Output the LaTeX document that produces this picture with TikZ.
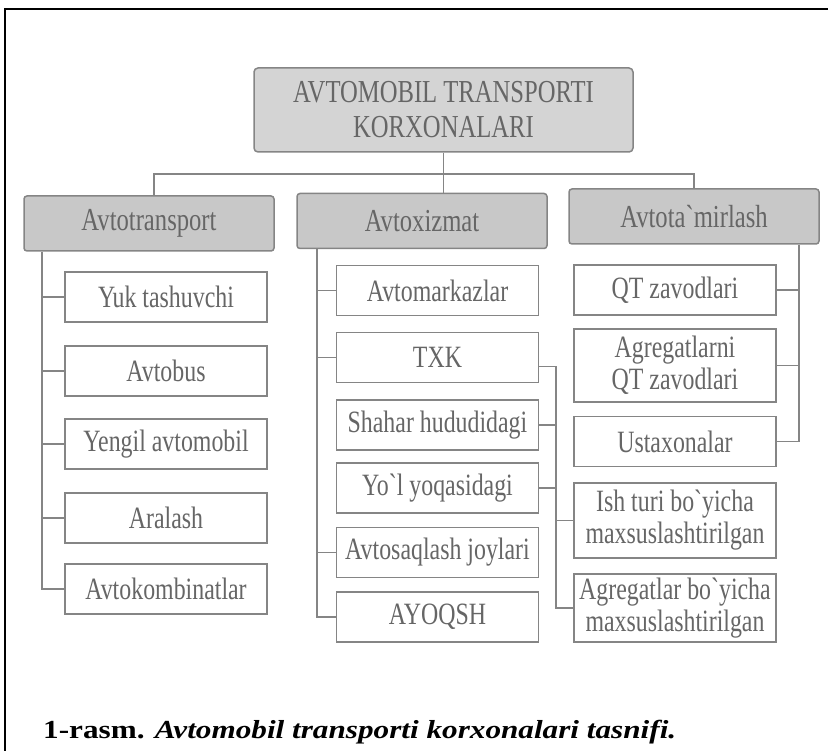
\documentclass[tikz,border=0pt]{standalone}
\usepackage{fontspec}
\setmainfont{Liberation Serif}
\newfontfamily\boxfont[FakeStretch=0.77]{Liberation Serif}
\newfontfamily\capfont[FakeStretch=1.2]{Liberation Serif}
\usetikzlibrary{positioning}
\definecolor{linegray}{HTML}{858585}
\definecolor{txtgray}{HTML}{666666}
\definecolor{headfill}{HTML}{C8C8C8}
\definecolor{rootfill}{HTML}{D4D4D4}

\begin{document}
\begin{tikzpicture}[x=1pt, y=-1pt]
\tikzstyle{every node}=[font=\boxfont\fontsize{31}{32}\selectfont, text=txtgray] %%
\tikzstyle{leafbox}=[draw=linegray, line width=1.5pt, fill=white, minimum width=202pt, minimum height=50pt, inner sep=0pt, align=center]
\tikzstyle{headbox}=[draw=linegray, line width=1.5pt, fill=headfill, rounded corners=3pt, minimum width=250pt, minimum height=55pt, inner sep=0pt, font=\boxfont\fontsize{32}{33}\selectfont]
\tikzstyle{rootbox}=[draw=linegray, line width=1.5pt, fill=rootfill, rounded corners=4pt, minimum width=379pt, minimum height=84pt, inner sep=0pt, align=center, font=\boxfont\fontsize{32}{35}\selectfont]
\tikzstyle{linkline}=[draw=linegray, line width=1.8pt]
\useasboundingbox (0,0) rectangle (828,751);
\draw[black, line width=2pt] (5,751) -- (5,9) -- (828,9);

\node[rootbox] (akt) at (443.5,110) {AVTOMOBIL TRANSPORTI\\KORXONALARI};
\node[headbox] (trans) at (149,223.5) {Avtotransport};
\node[headbox] (xiz) at (422,221) {Avtoxizmat};
\node[headbox] (tamir) at (694,216.5) {Avtota`mirlash};

% avtotransport
\node[leafbox] (yuk) at (166,297) {Yuk tashuvchi};
\node[leafbox] (bus) at (166,371) {Avtobus};
\node[leafbox] (yengil) at (166,444) {Yengil avtomobil};
\node[leafbox] (aral) at (166,518) {Aralash};
\node[leafbox] (komb) at (166,589) {Avtokombinatlar};

% avtoxizmat
\node[leafbox] (markaz) at (437.5,290.5) {Avtomarkazlar};
\node[leafbox] (txk) at (437.5,357.5) {TXK};
\node[leafbox] (shahar) at (437.5,425) {Shahar hududidagi};
\node[leafbox] (yol) at (437.5,488) {Yo`l yoqasidagi};
\node[leafbox] (saqlash) at (437.5,552.5) {Avtosaqlash joylari};
\node[leafbox] (ayoqsh) at (437.5,617) {AYOQSH};

% avtota`mirlash
\node[leafbox] (qt) at (675,290) {QT zavodlari};
\node[leafbox, minimum height=73pt] (agr) at (675,365.5) {Agregatlarni\\QT zavodlari};
\node[leafbox] (usta) at (675,441.5) {Ustaxonalar};
\node[leafbox, minimum height=75pt] (ish) at (675,520.5) {Ish turi bo`yicha\\maxsuslashtirilgan};
\node[leafbox, minimum height=68pt] (agrb) at (675,608) {Agregatlar bo`yicha\\maxsuslashtirilgan};

\coordinate (jl) at (154,174);
\coordinate (jr) at (694,174);
\coordinate (lbar) at (42,0);
\coordinate (mbar) at (317,0);
\coordinate (tbar) at (556,0);
\coordinate (rbar) at (799,0);

\draw[linkline] (akt.south) -- (xiz.north -| akt.south);
\draw[linkline] (trans.north -| jl) |- (jr) -- (tamir.north);

\draw[linkline] (trans.south -| lbar) |- (komb.west);
\draw[linkline] (yuk.west) -- (yuk.west -| lbar);
\draw[linkline] (bus.west) -- (bus.west -| lbar);
\draw[linkline] (yengil.west) -- (yengil.west -| lbar);
\draw[linkline] (aral.west) -- (aral.west -| lbar);

\draw[linkline] (xiz.south -| mbar) |- (ayoqsh.west);
\draw[linkline] (markaz.west) -- (markaz.west -| mbar);
\draw[linkline] (txk.west) -- (txk.west -| mbar);
\draw[linkline] (saqlash.west) -- (saqlash.west -| mbar);

\draw[linkline] ([yshift=-9pt]txk.east) -| (tbar |- agrb.west) -- (agrb.west);
\draw[linkline] (shahar.east) -- (shahar.east -| tbar);
\draw[linkline] (yol.east) -- (yol.east -| tbar);
\draw[linkline] (ish.west) -- (ish.west -| tbar);

\draw[linkline] (tamir.south -| rbar) |- (usta.east);
\draw[linkline] (qt.east) -- (qt.east -| rbar);
\draw[linkline] (agr.east) -- (agr.east -| rbar);

\node[anchor=base west, inner sep=0pt, text=black, font=\capfont\fontsize{26}{28}\selectfont] (cap) at (43,738) {\textbf{1-rasm.} \textbf{\textit{Avtomobil transporti korxonalari tasnifi.}}};
\end{tikzpicture}
\end{document}
